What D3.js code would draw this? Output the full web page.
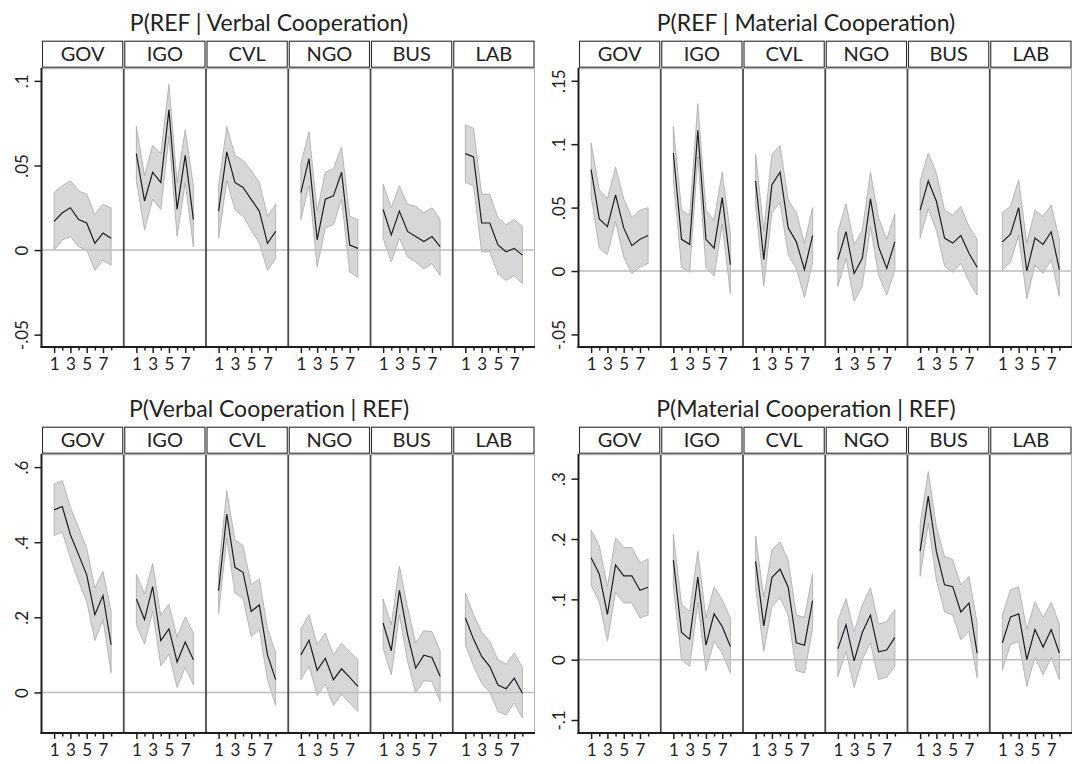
<!doctype html>
<html>
<head>
<meta charset="utf-8" />
<title>REF / cooperation by actor type</title>
<style>
  html,body{margin:0;background:#fff}
  svg{display:block;font-family:Lato, "Open Sans", sans-serif}
  .title{font-size:23px;fill:#222;text-anchor:middle}
  .strip rect{fill:#fff;stroke:#2b2b2b;stroke-width:1.1}
  .strip text{font-size:20px;fill:#222;text-anchor:middle}
  .tick text{font-size:17px;fill:#222;font-family:Lato, sans-serif}
  .tick line{stroke:#1e1e1e;stroke-width:1.5}
  .band{fill:#d6d7d9;stroke:#a8a8a8;stroke-width:.8}
  .mean{fill:none;stroke:#1e1e1e;stroke-width:1.2}
</style>
<script src="https://cdn.jsdelivr.net/npm/d3@7"></script>
</head>
<body>
<svg id="chart" width="1075" height="764"></svg>
<script>
// ---------- data ----------
const titles = ["P(REF | Verbal Cooperation)", "P(REF | Material Cooperation)",
                "P(Verbal Cooperation | REF)", "P(Material Cooperation | REF)"];
const facets = ["GOV", "IGO", "CVL", "NGO", "BUS", "LAB"];
const periods = [1, 2, 3, 4, 5, 6, 7, 8];
const xLabels = [1, 3, 5, 7];

const yTicks = [[-0.05, 0, 0.05, 0.1], [-0.05, 0, 0.05, 0.1, 0.15],
                [0, 0.2, 0.4, 0.6], [-0.1, 0, 0.1, 0.2, 0.3]];
const yTickLabels = [["-.05", "0", ".05", ".1"], ["-.05", "0", ".05", ".1", ".15"],
                     ["0", ".2", ".4", ".6"], ["-.1", "0", ".1", ".2", ".3"]];
const yDomains = [[-0.0573, 0.1072], [-0.0599, 0.1595], [-0.108, 0.633], [-0.1215, 0.3397]];

// P(REF | Verbal Cooperation) — rows follow facets
const refVerbalMean = [
  [0.017, 0.022, 0.025, 0.018, 0.016, 0.004, 0.010, 0.007],
  [0.057, 0.029, 0.046, 0.040, 0.083, 0.024, 0.056, 0.018],
  [0.023, 0.058, 0.040, 0.037, 0.030, 0.023, 0.004, 0.011],
  [0.034, 0.054, 0.006, 0.030, 0.032, 0.046, 0.003, 0.001],
  [0.024, 0.009, 0.023, 0.011, 0.008, 0.005, 0.008, 0.002],
  [0.057, 0.055, 0.016, 0.016, 0.003, -0.001, 0.001, -0.003]];
const refVerbalUpper = [
  [0.034, 0.038, 0.041, 0.035, 0.033, 0.021, 0.027, 0.025],
  [0.073, 0.044, 0.062, 0.057, 0.098, 0.040, 0.071, 0.038],
  [0.038, 0.073, 0.056, 0.053, 0.047, 0.040, 0.020, 0.027],
  [0.051, 0.070, 0.023, 0.046, 0.048, 0.061, 0.020, 0.018],
  [0.039, 0.025, 0.038, 0.027, 0.026, 0.022, 0.025, 0.018],
  [0.074, 0.072, 0.033, 0.033, 0.019, 0.015, 0.018, 0.014]];
const refVerbalLower = [
  [0.000, 0.006, 0.008, 0.002, 0.000, -0.012, -0.006, -0.009],
  [0.041, 0.012, 0.030, 0.024, 0.067, 0.008, 0.040, 0.002],
  [0.007, 0.041, 0.024, 0.020, 0.012, 0.004, -0.012, -0.005],
  [0.018, 0.038, -0.010, 0.013, 0.015, 0.030, -0.013, -0.016],
  [0.007, -0.007, 0.007, -0.004, -0.007, -0.011, -0.008, -0.015],
  [0.040, 0.038, -0.001, -0.001, -0.014, -0.018, -0.015, -0.020]];

// P(REF | Material Cooperation)
const refMaterialMean = [
  [0.080, 0.041, 0.035, 0.060, 0.034, 0.020, 0.025, 0.028],
  [0.093, 0.025, 0.021, 0.111, 0.025, 0.018, 0.058, 0.005],
  [0.071, 0.009, 0.068, 0.078, 0.034, 0.023, 0.001, 0.028],
  [0.009, 0.031, -0.002, 0.010, 0.057, 0.019, 0.002, 0.023],
  [0.048, 0.071, 0.055, 0.026, 0.022, 0.028, 0.014, 0.003],
  [0.023, 0.029, 0.050, 0.000, 0.026, 0.021, 0.031, 0.001]];
const refMaterialUpper = [
  [0.101, 0.064, 0.057, 0.082, 0.057, 0.042, 0.048, 0.050],
  [0.114, 0.048, 0.044, 0.132, 0.048, 0.040, 0.078, 0.030],
  [0.092, 0.032, 0.092, 0.099, 0.056, 0.046, 0.022, 0.050],
  [0.031, 0.053, 0.021, 0.032, 0.078, 0.042, 0.025, 0.045],
  [0.071, 0.093, 0.077, 0.048, 0.044, 0.051, 0.035, 0.025],
  [0.046, 0.051, 0.072, 0.022, 0.048, 0.043, 0.052, 0.025]];
const refMaterialLower = [
  [0.059, 0.018, 0.013, 0.039, 0.011, -0.002, 0.003, 0.006],
  [0.072, 0.003, -0.001, 0.090, 0.003, -0.004, 0.037, -0.018],
  [0.051, -0.012, 0.046, 0.054, 0.013, 0.002, -0.021, 0.007],
  [-0.012, 0.010, -0.024, -0.012, 0.035, -0.003, -0.019, 0.001],
  [0.026, 0.049, 0.032, 0.004, -0.001, 0.006, -0.008, -0.019],
  [0.001, 0.007, 0.028, -0.022, 0.005, -0.002, 0.009, -0.020]];

// P(Verbal Cooperation | REF)
const verbalRefMean = [
  [0.486, 0.495, 0.420, 0.367, 0.313, 0.207, 0.258, 0.127],
  [0.249, 0.194, 0.282, 0.138, 0.169, 0.081, 0.134, 0.087],
  [0.271, 0.475, 0.333, 0.320, 0.216, 0.233, 0.100, 0.034],
  [0.100, 0.139, 0.059, 0.091, 0.034, 0.063, 0.040, 0.016],
  [0.185, 0.111, 0.272, 0.154, 0.065, 0.099, 0.093, 0.043],
  [0.198, 0.142, 0.096, 0.069, 0.020, 0.010, 0.038, -0.002]];
const verbalRefUpper = [
  [0.555, 0.564, 0.493, 0.439, 0.384, 0.278, 0.322, 0.216],
  [0.315, 0.262, 0.343, 0.205, 0.235, 0.147, 0.201, 0.158],
  [0.325, 0.537, 0.407, 0.391, 0.287, 0.302, 0.171, 0.105],
  [0.169, 0.207, 0.127, 0.158, 0.100, 0.131, 0.109, 0.087],
  [0.249, 0.180, 0.336, 0.226, 0.131, 0.164, 0.162, 0.111],
  [0.265, 0.207, 0.161, 0.136, 0.087, 0.075, 0.105, 0.067]];
const verbalRefLower = [
  [0.418, 0.427, 0.358, 0.296, 0.242, 0.138, 0.194, 0.052],
  [0.180, 0.129, 0.216, 0.071, 0.102, 0.013, 0.067, 0.020],
  [0.210, 0.411, 0.265, 0.251, 0.149, 0.167, 0.034, -0.035],
  [0.034, 0.071, -0.008, 0.022, -0.035, -0.004, -0.028, -0.051],
  [0.118, 0.047, 0.207, 0.083, -0.002, 0.031, 0.029, -0.024],
  [0.127, 0.071, 0.025, 0.001, -0.051, -0.060, -0.028, -0.068]];

// P(Material Cooperation | REF)
const materialRefMean = [
  [0.169, 0.142, 0.075, 0.157, 0.139, 0.139, 0.115, 0.120],
  [0.165, 0.045, 0.034, 0.137, 0.024, 0.076, 0.055, 0.022],
  [0.163, 0.056, 0.136, 0.150, 0.120, 0.028, 0.024, 0.098],
  [0.018, 0.058, -0.002, 0.045, 0.074, 0.013, 0.016, 0.037],
  [0.180, 0.271, 0.179, 0.124, 0.121, 0.079, 0.094, 0.011],
  [0.028, 0.071, 0.076, 0.000, 0.050, 0.021, 0.050, 0.011]];
const materialRefUpper = [
  [0.215, 0.189, 0.121, 0.202, 0.186, 0.186, 0.160, 0.167],
  [0.208, 0.092, 0.080, 0.180, 0.069, 0.121, 0.099, 0.069],
  [0.205, 0.103, 0.182, 0.195, 0.165, 0.074, 0.070, 0.142],
  [0.065, 0.101, 0.046, 0.091, 0.119, 0.059, 0.063, 0.083],
  [0.224, 0.312, 0.220, 0.171, 0.166, 0.124, 0.138, 0.061],
  [0.074, 0.116, 0.121, 0.050, 0.096, 0.070, 0.095, 0.059]];
const materialRefLower = [
  [0.123, 0.096, 0.031, 0.112, 0.094, 0.094, 0.069, 0.074],
  [0.121, 0.000, -0.011, 0.095, -0.018, 0.031, 0.011, -0.022],
  [0.119, 0.014, 0.088, 0.103, 0.074, -0.018, -0.022, 0.052],
  [-0.028, 0.014, -0.046, 0.000, 0.028, -0.033, -0.029, -0.011],
  [0.138, 0.226, 0.132, 0.079, 0.074, 0.033, 0.047, -0.030],
  [-0.017, 0.025, 0.030, -0.044, 0.004, -0.025, 0.004, -0.033]];

const means  = [refVerbalMean, refMaterialMean, verbalRefMean, materialRefMean];
const uppers = [refVerbalUpper, refMaterialUpper, verbalRefUpper, materialRefUpper];
const lowers = [refVerbalLower, refMaterialLower, verbalRefLower, materialRefLower];

// ---------- layout ----------
const svg = d3.select("#chart");
const plotLefts = [41.5, 578.5], plotW = 493.5;
const plotTop0 = 68.7, plotH = 278.3, rowGap = 386;
const titleCx = [269, 806];

titles.forEach((title, p) => {
  const col = p % 2, row = Math.floor(p / 2);
  const left = plotLefts[col], right = left + plotW;
  const top = plotTop0 + row * rowGap, bottom = top + plotH;
  const g = svg.append("g");

  const y = d3.scaleLinear().domain(yDomains[p]).range([bottom, top]);
  const fx = d3.scaleBand().domain(facets).range([left, right]);
  const x = d3.scaleLinear().domain([-0.55, 9.55]).range([0, fx.bandwidth()]);

  g.append("text").attr("class", "title")
    .attr("x", titleCx[col]).attr("y", top - 38).text(title);

  // strips
  const strip = g.selectAll(".strip").data(facets).join("g").attr("class", "strip");
  strip.append("rect")
    .attr("x", d => fx(d) + 1).attr("y", top - 27.5)
    .attr("width", fx.bandwidth() - 2).attr("height", 26);
  strip.append("text")
    .attr("x", d => fx(d) + fx.bandwidth() / 2).attr("y", top - 7.5).text(d => d);

  // plot top / right edge
  g.append("line").attr("x1", left).attr("x2", right).attr("y1", top).attr("y2", top)
    .attr("stroke", "#b4b4b4").attr("stroke-width", 1.2);
  g.append("line").attr("x1", right - 0.5).attr("x2", right - 0.5).attr("y1", top).attr("y2", bottom)
    .attr("stroke", "#b4b4b4").attr("stroke-width", 1);

  const area = d3.area().x((d, i) => x(periods[i])).y0(d => y(d[0])).y1(d => y(d[1]));
  const line = d3.line().x((d, i) => x(periods[i])).y(d => y(d));

  // confidence bands
  facets.forEach((f, k) => {
    const band = periods.map((_, i) => [lowers[p][k][i], uppers[p][k][i]]);
    g.append("path").attr("class", "band")
      .attr("transform", `translate(${fx(f)},0)`).attr("d", area(band));
  });

  // zero line
  g.append("line").attr("x1", left).attr("x2", right).attr("y1", y(0)).attr("y2", y(0))
    .attr("stroke", "#bdbdbd").attr("stroke-width", 1.6);

  facets.forEach((f, k) => {
    const fg = g.append("g").attr("transform", `translate(${fx(f)},0)`);
    fg.append("path").attr("class", "mean").attr("d", line(means[p][k]));

    // x ticks: labelled odd periods long, even ones short
    fg.append("g").attr("transform", `translate(0,${bottom})`)
      .call(d3.axisBottom(x).tickValues(xLabels).tickSize(6).tickFormat(d3.format("d")))
      .call(a => a.select(".domain").remove())
      .call(a => a.selectAll(".tick text").attr("y", 22.5).attr("dy", 0));
    fg.append("g").attr("transform", `translate(0,${bottom})`)
      .call(d3.axisBottom(x).tickValues(periods.filter(v => v % 2 === 0)).tickSize(3.5).tickFormat(""))
      .call(a => a.select(".domain").remove());
  });

  // facet separators
  g.selectAll(".sep").data(facets.slice(1)).join("line")
    .attr("x1", d => fx(d)).attr("x2", d => fx(d)).attr("y1", top).attr("y2", bottom)
    .attr("stroke", "#4a4a4a").attr("stroke-width", 1.8);

  // y axis
  g.append("g").attr("transform", `translate(${left},0)`)
    .call(d3.axisLeft(y).tickValues(yTicks[p]).tickSize(7)
      .tickFormat((d, i) => yTickLabels[p][i]))
    .call(a => a.select(".domain").remove())
    .call(a => a.selectAll(".tick text")
      .attr("transform", "rotate(-90)").attr("text-anchor", "middle")
      .attr("x", 0).attr("y", -14).attr("dy", 0));

  // axis lines
  g.append("line").attr("x1", left).attr("x2", left).attr("y1", top - 1).attr("y2", bottom + 1)
    .attr("stroke", "#1e1e1e").attr("stroke-width", 2);
  g.append("line").attr("x1", left - 1).attr("x2", right).attr("y1", bottom).attr("y2", bottom)
    .attr("stroke", "#1e1e1e").attr("stroke-width", 2);
});
</script>
</body>
</html>
